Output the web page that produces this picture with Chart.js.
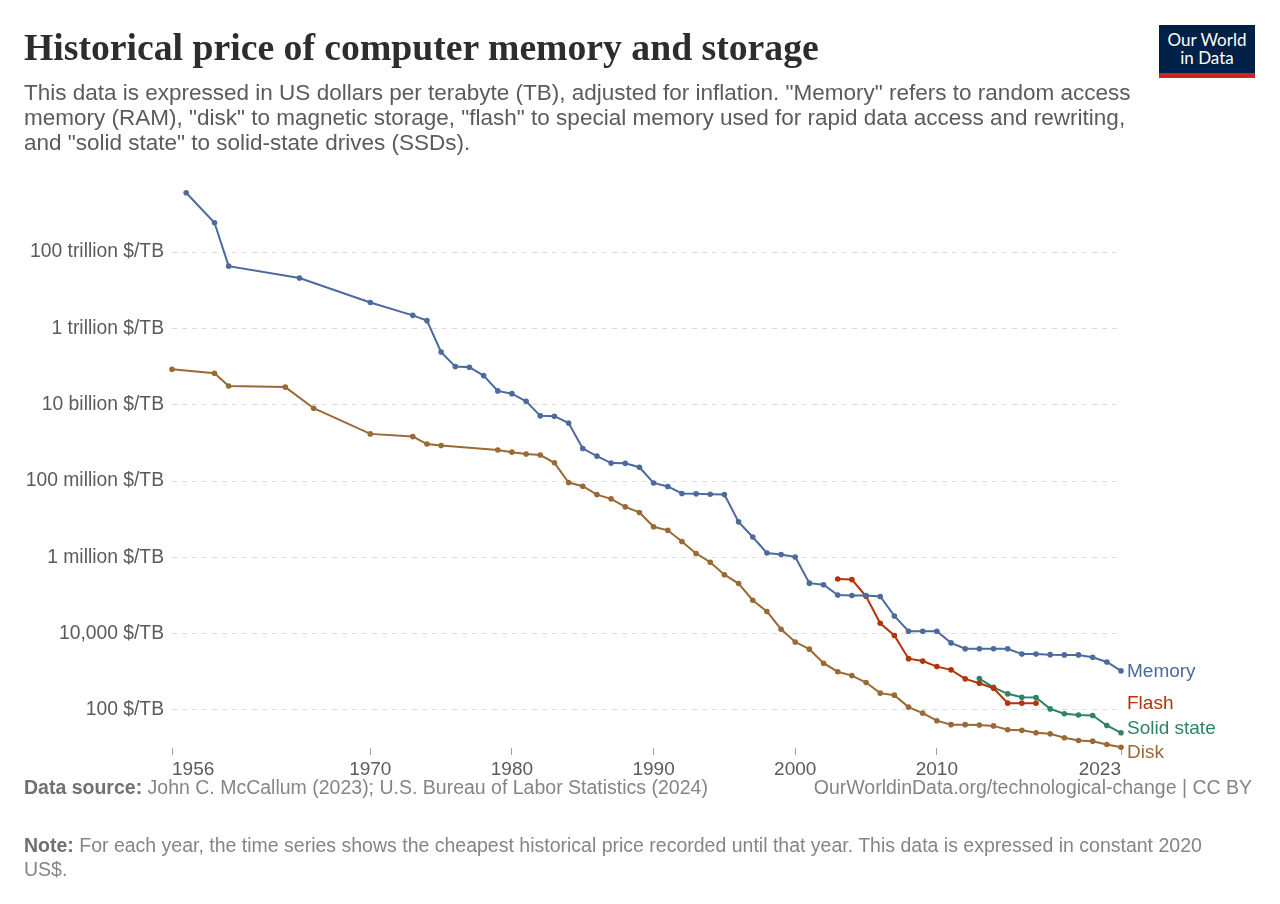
<!DOCTYPE html>
<html>
<head>
<meta charset="utf-8">
<script src="https://cdn.jsdelivr.net/npm/chart.js@4/dist/chart.umd.min.js"></script>
<style>
  body { margin: 0; background: #fff; width: 1280px; height: 904px; overflow: hidden; font-family: "Liberation Sans", Arial, sans-serif; }
  #grafico { position: absolute; left: 0; top: 0; }
  .titulo { position: absolute; left: 24px; top: 25px; margin: 0; font-family: "Liberation Serif", serif; font-weight: bold; font-size: 37.7px; color: #2d2d2d; white-space: nowrap; }
  .subtitulo { position: absolute; left: 24px; top: 80px; margin: 0; font-size: 22.5px; line-height: 25px; color: #5b5b5b; white-space: nowrap; }
  .rodape { position: absolute; left: 24px; font-size: 19.5px; line-height: 24px; color: #858585; white-space: nowrap; }
  .rodape b { color: #707070; }
  .logo { position: absolute; left: 1159px; top: 25px; width: 96px; background: #002147; border-bottom: 5px solid #ce261e; color: #fff; font-family: Lato, sans-serif; font-size: 17px; line-height: 18px; text-align: center; padding-top: 6px; box-sizing: content-box; height: 42px; }
</style>
</head>
<body>
<canvas id="grafico" width="1280" height="904"></canvas>
<h1 class="titulo">Historical price of computer memory and storage</h1>
<p class="subtitulo">This data is expressed in US dollars per terabyte (TB), adjusted for inflation. "Memory" refers to random access<br>memory (RAM), "disk" to magnetic storage, "flash" to special memory used for rapid data access and rewriting,<br>and "solid state" to solid-state drives (SSDs).</p>
<div class="logo">Our World<br>in Data</div>
<div class="rodape" style="top:775px;"><b>Data source:</b> John C. McCallum (2023); U.S. Bureau of Labor Statistics (2024)</div>
<div class="rodape" style="top:775px; left:auto; right:28px;">OurWorldinData.org/technological-change | CC BY</div>
<div class="rodape" style="top:833px;"><b>Note:</b> For each year, the time series shows the cheapest historical price recorded until that year. This data is expressed in constant 2020<br>US$.</div>
<script>
  // dados (US$ por TB, dólares constantes)
  const anosMemoria = [1957, 1959, 1960, 1965, 1970, 1973, 1974, 1975, 1976, 1977, 1978, 1979, 1980, 1981, 1982, 1983, 1984, 1985, 1986, 1987, 1988, 1989, 1990, 1991, 1992, 1993, 1994, 1995, 1996, 1997, 1998, 1999, 2000, 2001, 2002, 2003, 2004, 2005, 2006, 2007, 2008, 2009, 2010, 2011, 2012, 2013, 2014, 2015, 2016, 2017, 2018, 2019, 2020, 2021, 2022, 2023];
  const precoMemoria = [3.6e15, 5.9e14, 4.3e13, 2.1e13, 4.8e12, 2.2e12, 1.6e12, 2.4e11, 1.0e11, 9.6e10, 5.8e10, 2.3e10, 1.95e10, 1.23e10, 5.1e9, 5.0e9, 3.3e9, 7.1e8, 4.5e8, 2.95e8, 2.9e8, 2.3e8, 8.9e7, 7.2e7, 4.7e7, 4.6e7, 4.5e7, 4.4e7, 8.5e6, 3.4e6, 1.3e6, 1.18e6, 1.02e6, 2.1e5, 1.9e5, 1.03e5, 1.0e5, 1.0e5, 9.4e4, 2.9e4, 1.15e4, 1.15e4, 1.15e4, 5.7e3, 4.0e3, 4.0e3, 4.0e3, 4.0e3, 2.9e3, 2.9e3, 2.8e3, 2.76e3, 2.76e3, 2.4e3, 1.8e3, 1.05e3];

  const anosFlash = [2003, 2004, 2005, 2006, 2007, 2008, 2009, 2010, 2011, 2012, 2013, 2014, 2015, 2016, 2017];
  const precoFlash = [2.7e5, 2.6e5, 9.5e4, 1.86e4, 8.9e3, 2.2e3, 1.9e3, 1.36e3, 1.12e3, 650, 500, 370, 150, 150, 150];

  const anosSolido = [2013, 2014, 2015, 2016, 2017, 2018, 2019, 2020, 2021, 2022, 2023];
  const precoSolido = [660, 390, 263, 215, 210, 106, 79, 73, 71, 39, 25];

  const anosDisco = [1956, 1959, 1960, 1964, 1966, 1970, 1973, 1974, 1975, 1979, 1980, 1981, 1982, 1983, 1984, 1985, 1986, 1987, 1988, 1989, 1990, 1991, 1992, 1993, 1994, 1995, 1996, 1997, 1998, 1999, 2000, 2001, 2002, 2003, 2004, 2005, 2006, 2007, 2008, 2009, 2010, 2011, 2012, 2013, 2014, 2015, 2016, 2017, 2018, 2019, 2020, 2021, 2022, 2023];
  const precoDisco = [8.5e10, 6.7e10, 3.1e10, 2.9e10, 8.1e9, 1.72e9, 1.46e9, 9.3e8, 8.5e8, 6.5e8, 5.7e8, 5.1e8, 4.8e8, 3.0e8, 9.1e7, 7.3e7, 4.4e7, 3.4e7, 2.1e7, 1.5e7, 6.3e6, 5.1e6, 2.6e6, 1.26e6, 7.4e5, 3.5e5, 2.05e5, 7.5e4, 3.8e4, 1.3e4, 6.0e3, 3.9e3, 1.67e3, 1.0e3, 790, 520, 274, 243, 118, 82, 52, 41, 41, 40, 38, 30, 29, 25, 23.5, 18.5, 15.7, 15.1, 12.3, 10.5];

  const ticksAno = [1956, 1970, 1980, 1990, 2000, 2010, 2023];
  const ticksPreco = [100, 1e4, 1e6, 1e8, 1e10, 1e12, 1e14];
  const rotulosPreco = ["100 $/TB", "10,000 $/TB", "1 million $/TB", "100 million $/TB", "10 billion $/TB", "1 trillion $/TB", "100 trillion $/TB"];

  const series = [
    { nome: "Memory", anos: anosMemoria, valores: precoMemoria, cor: "#4c6a9c" },
    { nome: "Flash", anos: anosFlash, valores: precoFlash, cor: "#b13507" },
    { nome: "Solid state", anos: anosSolido, valores: precoSolido, cor: "#2c8465" },
    { nome: "Disk", anos: anosDisco, valores: precoDisco, cor: "#9a6a35" }
  ];

  const rotulosFinais = {
    id: "rotulosFinais",
    afterDatasetsDraw(chart) {
      const ctx = chart.ctx;
      const itens = chart.data.datasets.map((ds, i) => {
        const meta = chart.getDatasetMeta(i);
        const ultimo = meta.data[meta.data.length - 1];
        return { texto: ds.label, cor: ds.borderColor, y: ultimo.y };
      });
      // afasta os rótulos que ficam colados
      const minGap = 24;
      for (let iter = 0; iter < 20; iter++) {
        for (let i = 1; i < itens.length; i++) {
          const diff = itens[i].y - itens[i - 1].y;
          if (diff < minGap) {
            const ajuste = (minGap - diff) / 2;
            itens[i].y += ajuste;
            itens[i - 1].y -= ajuste;
          }
        }
      }
      ctx.save();
      ctx.font = "19px 'Liberation Sans', Arial, sans-serif";
      ctx.textBaseline = "middle";
      ctx.textAlign = "left";
      itens.forEach(item => {
        ctx.fillStyle = item.cor;
        ctx.fillText(item.texto, chart.chartArea.right + 6, item.y + 1);
      });
      ctx.restore();
    }
  };

  new Chart(document.getElementById("grafico").getContext("2d"), {
    type: "line",
    data: {
      datasets: series.map(s => ({
        label: s.nome,
        data: s.anos.map((a, i) => ({ x: a, y: s.valores[i] })),
        borderColor: s.cor,
        backgroundColor: s.cor,
        borderWidth: 2,
        pointRadius: 2.8,
        pointBorderWidth: 0,
        tension: 0,
        clip: false
      }))
    },
    options: {
      responsive: false,
      animation: false,
      layout: { padding: { left: 0, top: 183, right: 159, bottom: 126 } },
      plugins: { legend: { display: false }, tooltip: { enabled: false } },
      scales: {
        x: {
          type: "linear",
          min: 1956,
          max: 2023,
          afterBuildTicks: scale => { scale.ticks = ticksAno.map(v => ({ value: v })); },
          afterFit: scale => { scale.height = 30; },
          grid: { drawOnChartArea: false, drawTicks: true, tickLength: 7, color: "#a0a0a0" },
          border: { display: false },
          ticks: {
            align: "inner",
            autoSkip: false,
            maxRotation: 0,
            padding: 3,
            color: "#5b5b5b",
            font: { family: "'Liberation Sans', Arial, sans-serif", size: 19 },
            callback: v => String(v)
          }
        },
        y: {
          type: "logarithmic",
          min: 10,
          max: 6.5e15,
          afterBuildTicks: scale => { scale.ticks = ticksPreco.map(v => ({ value: v })); },
          afterFit: scale => { scale.width = 172; },
          grid: { drawTicks: false, color: "#dcdcdc", lineWidth: 1 },
          border: { display: false, dash: [5, 5] },
          ticks: {
            autoSkip: false,
            padding: 8,
            color: "#5b5b5b",
            font: { family: "'Liberation Sans', Arial, sans-serif", size: 19.3 },
            callback: v => {
              const i = ticksPreco.indexOf(v);
              return i >= 0 ? rotulosPreco[i] : "";
            }
          }
        }
      }
    },
    plugins: [rotulosFinais]
  });
</script>
</body>
</html>
